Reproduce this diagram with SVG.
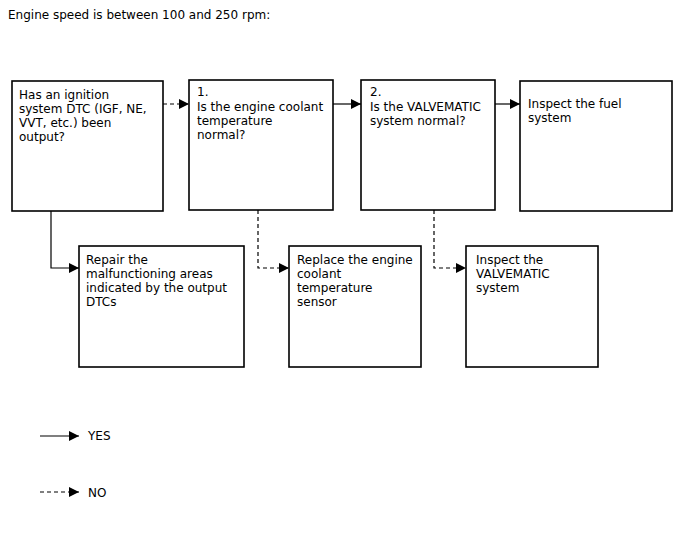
<svg xmlns="http://www.w3.org/2000/svg" width="688" height="560" viewBox="0 0 688 560">
<style>
text{font-family:"DejaVu Sans",sans-serif;font-size:12px;fill:#000}
.box{fill:#fff;stroke:#000;stroke-width:1.6}
.yes{fill:none;stroke:#000;stroke-width:1.2}
.no{fill:none;stroke:#000;stroke-width:1.2;stroke-dasharray:4 3}
</style>
<defs>
<marker id="ah" markerWidth="10" markerHeight="10" refX="10" refY="5" orient="auto" markerUnits="userSpaceOnUse">
<path d="M0,0 L10,5 L0,10 Z" fill="#000"/>
</marker>
</defs>
<rect width="688" height="560" fill="#fff"/>
<text x="8" y="19">Engine speed is between 100 and 250 rpm:</text>
<g id="n1"><rect class="box" x="12" y="81" width="151" height="130"/>
<text x="19" y="99">Has an ignition</text><text x="19" y="113">system DTC (IGF, NE,</text><text x="19" y="127">VVT, etc.) been</text><text x="19" y="141">output?</text></g>
<g id="n2"><rect class="box" x="189" y="80" width="144" height="130"/>
<text x="197" y="96">1.</text><text x="197" y="111">Is the engine coolant</text><text x="197" y="125">temperature</text><text x="197" y="139">normal?</text></g>
<g id="n3"><rect class="box" x="361" y="80" width="134" height="130"/>
<text x="370" y="96">2.</text><text x="370" y="111">Is the VALVEMATIC</text><text x="370" y="125">system normal?</text></g>
<g id="n4"><rect class="box" x="520" y="81" width="152" height="130"/>
<text x="528" y="108">Inspect the fuel</text><text x="528" y="122">system</text></g>
<g id="n5"><rect class="box" x="79" y="246" width="165" height="121"/>
<text x="86" y="264">Repair the</text><text x="86" y="278">malfunctioning areas</text><text x="86" y="292">indicated by the output</text><text x="86" y="306">DTCs</text></g>
<g id="n6"><rect class="box" x="289" y="246" width="132" height="121"/>
<text x="297" y="264">Replace the engine</text><text x="297" y="278">coolant</text><text x="297" y="292">temperature</text><text x="297" y="306">sensor</text></g>
<g id="n7"><rect class="box" x="466" y="246" width="132" height="121"/>
<text x="476" y="264">Inspect the</text><text x="476" y="278">VALVEMATIC</text><text x="476" y="292">system</text></g>
<g id="connectors">
<path class="no" d="M163,104 H189" marker-end="url(#ah)"/>
<path class="yes" d="M333,104 H361" marker-end="url(#ah)"/>
<path class="yes" d="M495,104 H520" marker-end="url(#ah)"/>
<path class="yes" d="M51,211 V268 H79" marker-end="url(#ah)"/>
<path class="no" d="M258,210 V268 H289" marker-end="url(#ah)"/>
<path class="no" d="M434,210 V268 H466" marker-end="url(#ah)"/>
</g>
<g id="legend">
<path class="yes" d="M40,436 H79" marker-end="url(#ah)"/>
<text x="88" y="440">YES</text>
<path class="no" d="M40,492 H79" marker-end="url(#ah)"/>
<text x="88" y="497">NO</text>
</g>
</svg>
